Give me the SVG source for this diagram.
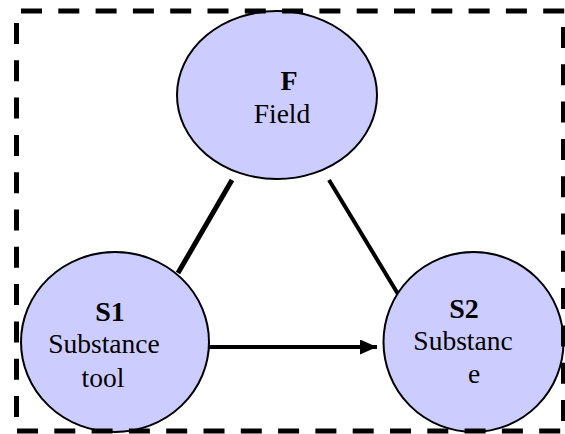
<svg xmlns="http://www.w3.org/2000/svg" width="565" height="434" viewBox="0 0 565 434">
  <defs>
    <marker id="arrowhead" markerWidth="17" markerHeight="15" refX="17" refY="7.5" orient="auto" markerUnits="userSpaceOnUse">
      <path d="M0,0 L17,7.5 L0,15 Z" fill="#000"/>
    </marker>
  </defs>
  <style>
    .node { fill: #CCCCFF; stroke: #000; stroke-width: 2; }
    .title { font-family: "Liberation Serif", "Times New Roman", serif; font-size: 28px; font-weight: bold; fill: #000; text-anchor: middle; }
    .label { font-family: "Liberation Serif", "Times New Roman", serif; font-size: 27.5px; fill: #000; text-anchor: middle; }
    .link { stroke: #000; fill: none; }
    .border { stroke: #000; stroke-width: 5; stroke-dasharray: 21 16.3; fill: none; }
  </style>

  <g id="connectors">
    <line class="link" x1="232" y1="180" x2="178" y2="273" stroke-width="5"/>
    <line class="link" x1="329" y1="180" x2="401" y2="299" stroke-width="4"/>
    <line class="link" x1="209" y1="347" x2="377" y2="347" stroke-width="4" marker-end="url(#arrowhead)"/>
  </g>

  <g id="node-F">
    <ellipse class="node" cx="277" cy="95" rx="100" ry="84"/>
    <text class="title" x="289" y="90">F</text>
    <text class="label" x="282" y="123">Field</text>
  </g>

  <g id="node-S1">
    <ellipse class="node" cx="115" cy="342" rx="94" ry="90"/>
    <text class="title" x="110" y="321">S1</text>
    <text class="label" x="104" y="353">Substance</text>
    <text class="label" x="103" y="387">tool</text>
  </g>

  <g id="node-S2">
    <ellipse class="node" cx="473.5" cy="342" rx="90" ry="90"/>
    <text class="title" x="464" y="318">S2</text>
    <text class="label" x="463" y="350">Substanc</text>
    <text class="label" x="474" y="383">e</text>
  </g>

  <g id="frame">
    <line class="border" x1="21" y1="11" x2="565" y2="11"/>
    <line class="border" x1="16.5" y1="23" x2="16.5" y2="425"/>
    <line class="border" x1="17" y1="431" x2="565" y2="431"/>
    <line class="border" x1="563.5" y1="27" x2="563.5" y2="425"/>
  </g>
</svg>
